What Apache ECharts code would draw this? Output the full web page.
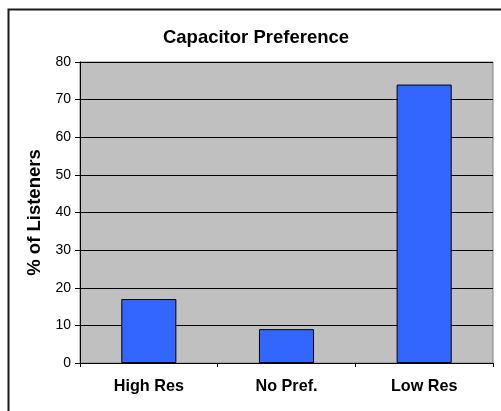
<!DOCTYPE html>
<html>
<head>
<meta charset="utf-8">
<script src="https://cdn.jsdelivr.net/npm/echarts@6/dist/echarts.min.js"></script>
<style>html,body{margin:0;padding:0;background:#fff;}#c{width:501px;height:411px;}</style>
</head>
<body>
<div id="c"></div>
<script>
var categories = ['High Res', 'No Pref.', 'Low Res'];
var values = [17, 9, 74];
var titleText = 'Capacitor Preference';
var yAxisName = '% of Listeners';

var chart = echarts.init(document.getElementById('c'), null, {renderer: 'canvas'});
chart.setOption({
  animation: false,
  backgroundColor: '#ffffff',
  title: {
    text: titleText,
    left: 251, top: 23, textAlign: 'center',
    textStyle: {fontFamily: 'Liberation Sans, Arial', fontWeight: 'bold', fontSize: 18.5, color: '#000'}
  },
  graphic: [{
    type: 'rect', silent: true, z: -10,
    shape: {x: 8.5, y: 9.5, width: 600, height: 500},
    style: {fill: 'none', stroke: '#1a1a1a', lineWidth: 2}
  }],
  grid: {
    left: 80, right: 8, top: 62, bottom: 48,
    show: true, backgroundColor: '#c0c0c0', borderColor: '#808080', borderWidth: 1
  },
  xAxis: {
    type: 'category', data: categories,
    axisLine: {lineStyle: {color: '#000', width: 1}},
    axisTick: {show: true, length: 4, alignWithLabel: false, lineStyle: {color: '#000'}},
    axisLabel: {margin: 16, fontFamily: 'Liberation Sans, Arial', fontWeight: 'bold', fontSize: 16.2, color: '#000'}
  },
  yAxis: {
    type: 'value', min: 0, max: 80, interval: 10,
    name: yAxisName, nameLocation: 'middle', nameRotate: 90, nameGap: 34,
    nameTextStyle: {fontFamily: 'Liberation Sans, Arial', fontWeight: 'bold', fontSize: 18.5, color: '#000'},
    axisLine: {show: true, lineStyle: {color: '#000', width: 1}},
    axisTick: {show: true, length: 5, lineStyle: {color: '#000'}},
    axisLabel: {margin: 9, fontFamily: 'Liberation Sans, Arial', fontSize: 14, color: '#000'},
    splitLine: {show: true, lineStyle: {color: '#000', width: 1}}
  },
  series: [{
    type: 'bar', data: values, barWidth: '40%',
    itemStyle: {color: '#3366ff', borderColor: '#000', borderWidth: 1}
  }]
});
</script>
</body>
</html>
